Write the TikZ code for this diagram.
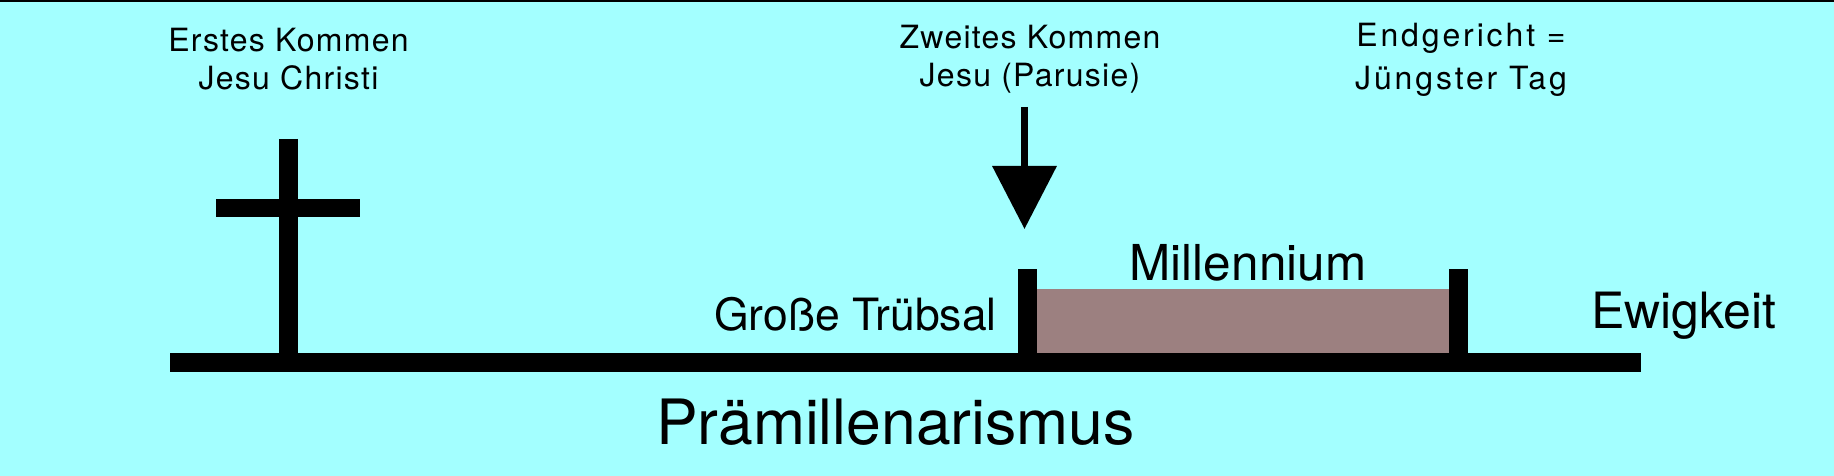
\documentclass[tikz,border=0pt]{standalone}
\usepackage{fontspec}
\setmainfont{TeX Gyre Heros}
\usetikzlibrary{arrows.meta}
\definecolor{himmelCyan}{HTML}{A3FFFF}
\definecolor{millBraun}{HTML}{9C8080}

\begin{document}
\begin{tikzpicture}[x=1pt, y=-1pt,
    balken/.style={line width=19pt},
    oben/.style={anchor=north, inner sep=0pt, align=center,
                 font={\fontsize{32}{38}\selectfont\addfontfeatures{LetterSpace=4}}},
    gross/.style={inner sep=0pt},
    pfeil/.style={line width=7pt, -{Triangle[width=63pt, length=63pt]}}]
    % Hintergrund
    \fill[himmelCyan] (0,0) rectangle (1834,476);
    \fill[black] (0,0) rectangle (1834,2);
    % Zeitstrahl, Kreuz und Pfosten
    \fill[millBraun] (1037,289) rectangle (1449,354);
    \draw[balken] (170,362.5) -- (1641,362.5);
    \draw[balken] (288,139) -- (288,354);
    \draw[line width=18pt] (216,207.5) -- (360,207.5);
    \draw[balken] (1027.5,269) -- (1027.5,354);
    \draw[balken] (1458,269) -- (1458,354);
    % Beschriftungen oben
    \node[oben] (erstes) at (288.5,28) {Erstes Kommen\\Jesu Christi};
    \node[oben] (zweites) at (1030,24.5) {Zweites Kommen\\Jesu (Parusie)};
    \node[oben, font={\fontsize{32}{43}\selectfont\addfontfeatures{LetterSpace=9}}]
      (gericht) at (1461,22.5) {Endgericht =\\Jüngster Tag};
    % Pfeil zur Parusie
    \coordinate (pfeilAnfang) at (1024.5,107);
    \coordinate (parusie) at (1024.5,229);
    \draw[pfeil] (pfeilAnfang) -- (parusie);
    % Abschnitte
    \node[gross, anchor=base east, font=\fontsize{44.5}{50}\selectfont] (truebsal)
      at (997,330) {Große Trübsal};
    \node[gross, anchor=base, font=\fontsize{49.5}{56}\selectfont] (millennium)
      at (1248,280) {Millennium};
    \node[gross, anchor=base west, font=\fontsize{50}{55}\selectfont] (ewigkeit)
      at (1591,328) {Ewigkeit};
    \node[gross, anchor=base, font=\fontsize{62.5}{70}\selectfont] (titel)
      at (895.5,444) {Prämillenarismus};
\end{tikzpicture}
\end{document}
